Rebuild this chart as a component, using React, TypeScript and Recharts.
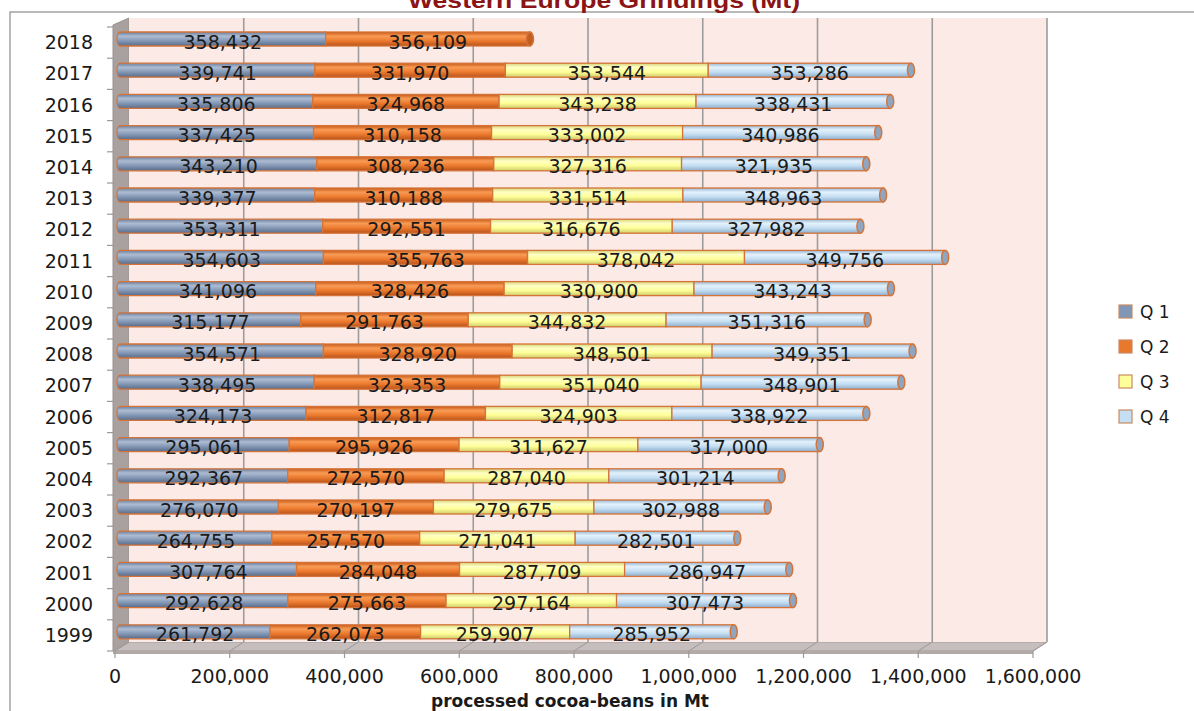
import React from 'react';
import { BarChart, Bar, XAxis, YAxis, CartesianGrid, LabelList } from 'recharts';

const YEARS = ['1999', '2000', '2001', '2002', '2003', '2004', '2005', '2006', '2007', '2008', '2009', '2010', '2011', '2012', '2013', '2014', '2015', '2016', '2017', '2018'];
const Q1 = [261792, 292628, 307764, 264755, 276070, 292367, 295061, 324173, 338495, 354571, 315177, 341096, 354603, 353311, 339377, 343210, 337425, 335806, 339741, 358432];
const Q2 = [262073, 275663, 284048, 257570, 270197, 272570, 295926, 312817, 323353, 328920, 291763, 328426, 355763, 292551, 310188, 308236, 310158, 324968, 331970, 356109];
const Q3 = [259907, 297164, 287709, 271041, 279675, 287040, 311627, 324903, 351040, 348501, 344832, 330900, 378042, 316676, 331514, 327316, 333002, 343238, 353544, null];
const Q4 = [285952, 307473, 286947, 282501, 302988, 301214, 317000, 338922, 348901, 349351, 351316, 343243, 349756, 327982, 348963, 321935, 340986, 338431, 353286, null];

const SERIES = ['Q 1', 'Q 2', 'Q 3', 'Q 4'];
const KEYS = ['q1', 'q2', 'q3', 'q4'];
const X_TICKS = [0, 200000, 400000, 600000, 800000, 1000000, 1200000, 1400000, 1600000];
const X_MAX = 1600000;
const TITLE = 'Western Europe Grindings (Mt)';
const AXIS_TITLE = 'processed cocoa-beans in Mt';

const data = YEARS.map((year, i) => ({ year, q1: Q1[i], q2: Q2[i], q3: Q3[i], q4: Q4[i] }));

// colours: [dark edge, highlight, mid, dark edge]
const GRADS = [
  ['#6A7E9D', '#AEBCD2', '#8599B6', '#586B88'],
  ['#C85A1A', '#F89B55', '#ED7B2F', '#B8521A'],
  ['#D6D47A', '#FFFFC4', '#FFFF99', '#CFCC6A'],
  ['#97B7D5', '#E4F1FB', '#C5DEF2', '#8DAECD'],
];
const LEGEND_FILL = ['#8096B4', '#E8792C', '#FFFF99', '#C5DEF2'];
const CAP_FILL = ['#6F84A3', '#C25E1F', '#D6D47A', '#8EA6C2'];
const BAR_STROKE = '#D4743A';
const FONT = '"DejaVu Sans", Verdana, sans-serif';

// plot geometry (bars sit in the middle of the 3D depth)
const W = 1194;
const H = 711;
const PLOT_L = 120;
const PLOT_R = 1038;
const PLOT_T = 23;
const PLOT_B = 647;
const DX = 9; // back wall offset
const DY = -5;
const FX = -5; // front plane offset
const FY = 4;

const lastKey = (row: any) => {
  let k = '';
  KEYS.forEach((key) => {
    if (row[key] != null) k = key;
  });
  return k;
};

const makeShape = (si: number) => (props: any) => {
  const x = Number(props.x);
  const y = Number(props.y);
  const w = Number(props.width);
  const h = Number(props.height);
  const row = props.payload || {};
  if (row[KEYS[si]] == null || !w) return <g />;
  const isLast = lastKey(row) === KEYS[si];
  const fill = `url(#grad${si})`;
  const body =
    si === 0 ? (
      <path
        d={`M ${x},${y} H ${x + w} V ${y + h} H ${x} A 3 ${h / 2} 0 0 1 ${x} ${y} Z`}
        fill={fill}
        stroke={BAR_STROKE}
        strokeWidth={1.3}
      />
    ) : (
      <rect x={x} y={y} width={w} height={h} fill={fill} stroke={BAR_STROKE} strokeWidth={1.3} />
    );
  return (
    <g>
      {body}
      {isLast && (
        <ellipse cx={x + w} cy={y + h / 2} rx={3.5} ry={h / 2} fill={CAP_FILL[si]} stroke={BAR_STROKE} strokeWidth={1.5} />
      )}
    </g>
  );
};

const renderLabel = (props: any) => {
  const { x, y, width, height, value } = props;
  if (value == null) return null;
  return (
    <text
      x={Number(x) + Number(width) / 2}
      y={Number(y) + Number(height) / 2 + 2.5}
      textAnchor="middle"
      dominantBaseline="central"
      fontFamily={FONT}
      fontSize={19}
      fill="#1a1a1a"
    >
      {Number(value).toLocaleString('en-US')}
    </text>
  );
};

const YTick = (props: any) => (
  <text x={93} y={Number(props.y) + 3.5} textAnchor="end" dominantBaseline="central" fontFamily={FONT} fontSize={19} fill="#1a1a1a">
    {props.payload.value}
  </text>
);

const XTick = (props: any) => (
  <text x={Number(props.x) + FX} y={676} textAnchor="middle" dominantBaseline="central" fontFamily={FONT} fontSize={19} fill="#1a1a1a">
    {Number(props.payload.value).toLocaleString('en-US')}
  </text>
);

const Frame = () => {
  const pw = PLOT_R - PLOT_L;
  const backL = PLOT_L + DX;
  const backT = PLOT_T + DY;
  const backB = PLOT_B + DY;
  const frontL = PLOT_L + FX;
  const frontB = PLOT_B + FY;
  const band = (PLOT_B - PLOT_T) / YEARS.length;
  return (
    <svg width={W} height={H} style={{ position: 'absolute', left: 0, top: 0 }}>
      <rect x={10} y={12} width={W + 20} height={H + 20} fill="#fff" stroke="#8c8c8c" strokeWidth={1.2} />
      <text x={604} y={8} textAnchor="middle" fontFamily='"Liberation Sans", Arial, sans-serif' fontWeight="bold" fontSize={22} fill="#8B1414" textLength={392} lengthAdjust="spacingAndGlyphs">
        {TITLE}
      </text>
      {/* left wall */}
      <polygon points={`${frontL - 2},${PLOT_T + FY - 2} ${backL},${backT} ${backL},${backB} ${frontL - 2},${frontB}`} fill="#A9A19F" stroke="#9a9290" strokeWidth={1} />
      {/* floor */}
      <polygon points={`${frontL - 2},${frontB} ${backL},${backB} ${backL + pw},${backB} ${frontL + pw},${frontB}`} fill="#C6BEBC" stroke="#a39b99" strokeWidth={1} />
      <rect x={frontL - 2} y={frontB} width={pw + 2} height={3} fill="#B3AAA8" />
      {X_TICKS.map((t) => {
        const bx = backL + (pw * t) / X_MAX;
        const fx = frontL + (pw * t) / X_MAX;
        return (
          <g key={t}>
            <line x1={bx} y1={backB} x2={fx} y2={frontB} stroke="#9a9a9a" strokeWidth={1} />
            <line x1={fx} y1={frontB} x2={fx} y2={frontB + 7} stroke="#9a9a9a" strokeWidth={1.2} />
          </g>
        );
      })}
      {YEARS.map((y, i) => (
        <line key={y} x1={frontL - 8} y1={PLOT_T + FY + i * band} x2={frontL - 2} y2={PLOT_T + FY + i * band} stroke="#9a9a9a" strokeWidth={1.2} />
      ))}
      <line x1={frontL - 8} y1={frontB} x2={frontL - 2} y2={frontB} stroke="#9a9a9a" strokeWidth={1.2} />
      <text x={570} y={701} textAnchor="middle" dominantBaseline="central" fontFamily={FONT} fontWeight="bold" fontSize={17} fill="#1a1a1a">
        {AXIS_TITLE}
      </text>
      {SERIES.map((s, i) => (
        <g key={s}>
          <rect x={1119} y={305 + i * 35} width={13} height={13} fill={LEGEND_FILL[i]} stroke="#C98A64" strokeWidth={1.2} />
          <text x={1140} y={312 + i * 35} dominantBaseline="central" fontFamily={FONT} fontSize={17} fill="#1a1a1a">
            {s}
          </text>
        </g>
      ))}
    </svg>
  );
};

export default function App() {
  const yAxisWidth = 100;
  return (
    <div style={{ position: 'absolute', left: 0, top: 0, width: W, height: H, overflow: 'hidden', background: '#fff' }}>
      <Frame />
      <div style={{ position: 'absolute', left: 0, top: 0 }}>
        <BarChart
          width={W}
          height={H}
          data={data}
          layout="vertical"
          barSize={14}
          margin={{ top: PLOT_T, right: W - PLOT_R, bottom: 0, left: PLOT_L - yAxisWidth }}
        >
          <defs>
            {GRADS.map((g, i) => (
              <linearGradient key={i} id={`grad${i}`} x1="0" y1="0" x2="0" y2="1">
                <stop offset="0%" stopColor={g[0]} />
                <stop offset="30%" stopColor={g[1]} />
                <stop offset="62%" stopColor={g[2]} />
                <stop offset="100%" stopColor={g[3]} />
              </linearGradient>
            ))}
          </defs>
          <CartesianGrid
            x={PLOT_L + DX}
            y={PLOT_T + DY}
            width={PLOT_R - PLOT_L}
            height={PLOT_B - PLOT_T}
            horizontal={false}
            fill="#FCEAE6"
            fillOpacity={1}
            stroke="#9c9c9c"
            strokeWidth={1.6}
            verticalCoordinatesGenerator={({ offset }: any) =>
              X_TICKS.slice(1).map((t) => offset.left + DX + (offset.width * t) / X_MAX)
            }
          />
          <XAxis
            type="number"
            domain={[0, X_MAX]}
            ticks={X_TICKS}
            interval={0}
            axisLine={false}
            tickLine={false}
            height={H - PLOT_B}
            tick={<XTick />}
          />
          <YAxis
            type="category"
            dataKey="year"
            reversed
            width={yAxisWidth}
            axisLine={false}
            tickLine={false}
            interval={0}
            tick={<YTick />}
          />
          {KEYS.map((k, i) => (
            <Bar key={k} dataKey={k} name={SERIES[i]} stackId="a" fill={LEGEND_FILL[i]} shape={makeShape(i)} isAnimationActive={false}>
              <LabelList dataKey={k} content={renderLabel} />
            </Bar>
          ))}
        </BarChart>
      </div>
    </div>
  );
}
